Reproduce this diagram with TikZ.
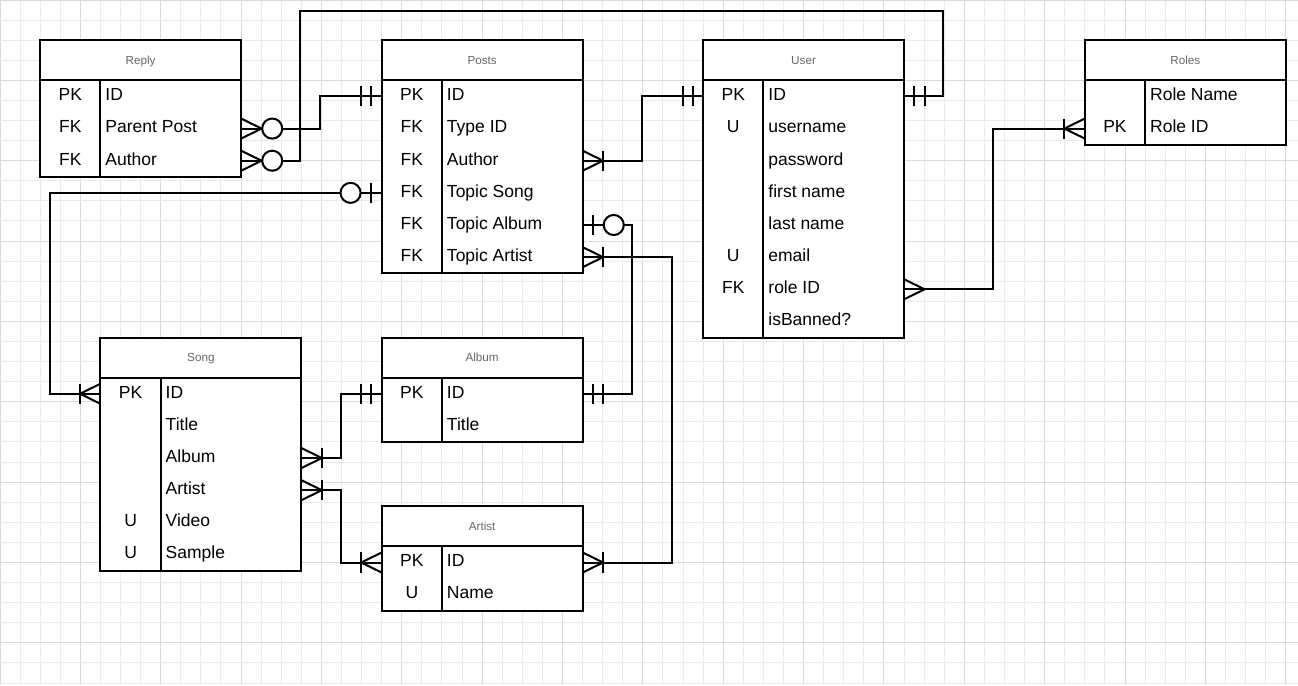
\documentclass[tikz,border=0pt]{standalone}
\usepackage{fontspec}
\setmainfont{Liberation Sans}
\definecolor{gridminor}{HTML}{EBEBEB}
\definecolor{gridmajor}{HTML}{DADADA}
\definecolor{titlegray}{HTML}{666666}

% table frame: #1 name, #2 left, #3 top, #4 number of rows, #5 title
\newcommand\tablebox[5]{%
  \def\tname{#1}\def\tleft{#2}\def\ttop{#3}%
  \pgfmathsetmacro\tright{#2+10}%
  \pgfmathsetmacro\thead{#3+2}%
  \pgfmathsetmacro\tbottom{#3+2+1.6*#4}%
  \pgfmathsetmacro\tdiv{#2+3}%
  \draw[fill=white] (#2,#3) rectangle (\tright,\tbottom);
  \draw (#2,\thead) -- (\tright,\thead);
  \draw (\tdiv,\thead) -- (\tdiv,\tbottom);
  \node[titletext] (#1-title) at (#2+5,#3+1.2) {#5};
}
% table row: #1 index, #2 key, #3 field
\newcommand\tablerow[3]{%
  \pgfmathsetmacro\rowc{\thead+0.8+1.6*(#1-1)}%
  \coordinate (\tname-w#1) at (\tleft,\rowc);
  \coordinate (\tname-e#1) at (\tright,\rowc);
  \node[keytext] (\tname-k#1) at (\tleft+1.5,\rowc+0.215) {#2};
  \node[fieldtext] (\tname-f#1) at (\tdiv+0.2,\rowc+0.215) {#3};
}

\tikzset{
  titletext/.style={font=\fontsize{11.7}{14}\selectfont, text=titlegray, anchor=base, inner sep=0},
  keytext/.style={font=\fontsize{17.5}{21}\selectfont, anchor=base, inner sep=0},
  fieldtext/.style={font=\fontsize{17.5}{21}\selectfont, anchor=base west, inner sep=0},
  % relationship end markers, drawn pointing away from the table edge
  pics/crowmany/.style={code={
    \draw (0,0.5) -- (1.02,0) -- (0,-0.5);}},
  pics/crowonemany/.style={code={
    \draw (0,0.5) -- (1.02,0) -- (0,-0.5);
    \draw (1.02,0.5) -- (1.02,-0.5);}},
  pics/barmandone/.style={code={
    \draw (0.52,0.5) -- (0.52,-0.5) (1.02,0.5) -- (1.02,-0.5);}},
  pics/ringzeroone/.style={code={
    \draw (0.54,0.5) -- (0.54,-0.5);
    \draw[fill=white] (1.55,0) circle (0.5);}},
  pics/crowzeromany/.style={code={
    \draw (0,0.5) -- (1.02,0) -- (0,-0.5);
    \draw[fill=white] (1.55,0) circle (0.5);}},
}

\begin{document}
\begin{tikzpicture}[x=20.09pt, y=-20.09pt, line width=2pt]
\useasboundingbox (0,0) rectangle (64.61,34.10);

% background grid
\foreach \i in {0,...,64} {
  \pgfmathtruncatemacro\m{mod(\i,4)}
  \ifnum\m=0 \def\gc{gridmajor}\else\def\gc{gridminor}\fi
  \draw[line width=1pt, draw=\gc] (\i,0) -- (\i,34.10);
}
\foreach \j in {0,...,34} {
  \pgfmathtruncatemacro\m{mod(\j,4)}
  \ifnum\m=0 \def\gc{gridmajor}\else\def\gc{gridminor}\fi
  \draw[line width=1pt, draw=\gc] (0,\j) -- (64.61,\j);
}

% tables
\tablebox{reply}{2}{2}{3}{Reply}
\tablerow{1}{PK}{ID}
\tablerow{2}{FK}{Parent Post}
\tablerow{3}{FK}{Author}

\tablebox{posts}{19}{2}{6}{Posts}
\tablerow{1}{PK}{ID}
\tablerow{2}{FK}{Type ID}
\tablerow{3}{FK}{Author}
\tablerow{4}{FK}{Topic Song}
\tablerow{5}{FK}{Topic Album}
\tablerow{6}{FK}{Topic Artist}

\tablebox{user}{35}{2}{8}{User}
\tablerow{1}{PK}{ID}
\tablerow{2}{U}{username}
\tablerow{3}{}{password}
\tablerow{4}{}{first name}
\tablerow{5}{}{last name}
\tablerow{6}{U}{email}
\tablerow{7}{FK}{role ID}
\tablerow{8}{}{isBanned?}

\tablebox{roles}{54}{2}{2}{Roles}
\tablerow{1}{}{Role Name}
\tablerow{2}{PK}{Role ID}

\tablebox{song}{5}{16.8}{6}{Song}
\tablerow{1}{PK}{ID}
\tablerow{2}{}{Title}
\tablerow{3}{}{Album}
\tablerow{4}{}{Artist}
\tablerow{5}{U}{Video}
\tablerow{6}{U}{Sample}

\tablebox{album}{19}{16.8}{2}{Album}
\tablerow{1}{PK}{ID}
\tablerow{2}{}{Title}

\tablebox{artist}{19}{25.2}{2}{Artist}
\tablerow{1}{PK}{ID}
\tablerow{2}{U}{Name}

% relationships
\draw (reply-e2) -- ++(3.93,0) |- (posts-w1);
\draw (reply-e3) -- ++(2.93,0) |- (46.94,0.55) |- (user-e1);
\draw (posts-e3) -- ++(2.95,0) |- (user-w1);
\draw (posts-w4) -- ++(-16.5,0) |- (song-w1);
\draw (posts-e5) -- ++(2.45,0) |- (album-e1);
\draw (posts-e6) -- ++(4.45,0) |- (artist-e1);
\draw (song-e3) -- ++(1.95,0) |- (album-w1);
\draw (song-e4) -- ++(1.95,0) |- (artist-w1);
\draw (user-e7) -- ++(4.45,0) |- (roles-w2);

% end markers
\pic at (reply-e2) {crowzeromany};
\pic[xscale=-1] at (posts-w1) {barmandone};
\pic at (reply-e3) {crowzeromany};
\pic at (user-e1) {barmandone};
\pic at (posts-e3) {crowonemany};
\pic[xscale=-1] at (user-w1) {barmandone};
\pic[xscale=-1] at (posts-w4) {ringzeroone};
\pic[xscale=-1] at (song-w1) {crowonemany};
\pic at (posts-e5) {ringzeroone};
\pic at (album-e1) {barmandone};
\pic at (posts-e6) {crowonemany};
\pic at (artist-e1) {crowonemany};
\pic at (song-e3) {crowonemany};
\pic[xscale=-1] at (album-w1) {barmandone};
\pic at (song-e4) {crowonemany};
\pic[xscale=-1] at (artist-w1) {crowonemany};
\pic at (user-e7) {crowmany};
\pic[xscale=-1] at (roles-w2) {crowonemany};
\end{tikzpicture}
\end{document}
